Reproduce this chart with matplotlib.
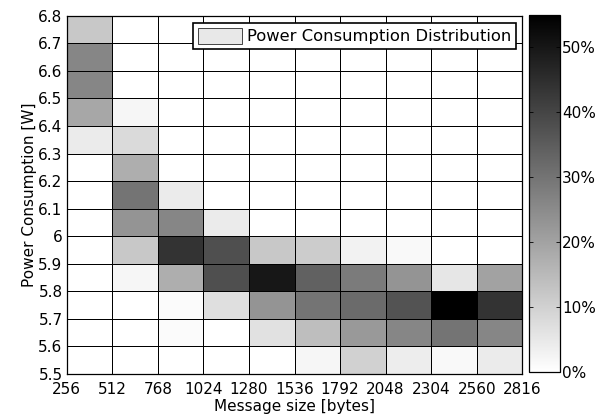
import numpy as np
import matplotlib.pyplot as plt
from matplotlib.patches import Patch
from matplotlib.ticker import FuncFormatter

plt.rcParams['font.family'] = ['DejaVu Sans']
plt.rcParams['font.size'] = 11

# bin edges
size_edges = [256, 512, 768, 1024, 1280, 1536, 1792, 2048, 2304, 2560, 2816]
power_edges = [5.5, 5.6, 5.7, 5.8, 5.9, 6.0, 6.1, 6.2, 6.3, 6.4, 6.5, 6.6, 6.7, 6.8]

# share of samples [%], one row per power bin (bottom -> top), one column per size bin
row_55 = [0, 0, 0, 0, 0, 2, 10, 4, 1.5, 4.5]
row_56 = [0, 0, 1, 0, 6.5, 14, 22, 26, 30, 26]
row_57 = [0, 0, 1, 7, 23, 30, 32, 37, 55, 44]
row_58 = [0, 2, 17.5, 38, 50, 34, 28.5, 23, 5.5, 20]
row_59 = [0, 12, 44, 38, 12, 11, 3, 1.5, 0, 0]
row_60 = [0, 23, 26, 4.5, 0, 0, 0, 0, 0, 0]
row_61 = [0, 30, 4.5, 0, 0, 0, 0, 0, 0, 0]
row_62 = [0, 17.5, 0, 0, 0, 0, 0, 0, 0, 0]
row_63 = [4.5, 8, 0, 0, 0, 0, 0, 0, 0, 0]
row_64 = [19, 2, 0, 0, 0, 0, 0, 0, 0, 0]
row_65 = [26, 0, 0, 0, 0, 0, 0, 0, 0, 0]
row_66 = [26, 0, 0, 0, 0, 0, 0, 0, 0, 0]
row_67 = [12, 0, 0, 0, 0, 0, 0, 0, 0, 0]

dist = np.array([row_55, row_56, row_57, row_58, row_59, row_60, row_61,
                 row_62, row_63, row_64, row_65, row_66, row_67])

fig = plt.figure(figsize=(6.03, 4.19), dpi=100)
ax = fig.add_axes([66.7/603, 45/419, 455.6/603, 358.3/419])
cax = fig.add_axes([529.3/603, 47/419, 30.7/603, 357/419])

mesh = ax.pcolormesh(size_edges, power_edges, dist, cmap='gray_r', vmin=0, vmax=55,
                     edgecolors='black', linewidth=0.7, snap=True)

ax.set_xlim(256, 2816)
ax.set_ylim(5.5, 6.8)
ax.set_xticks(size_edges)
ax.set_yticks(power_edges)
ax.yaxis.set_major_formatter(FuncFormatter(lambda v, p: '%g' % round(v, 1)))
ax.tick_params(axis='x', direction='in', length=0, pad=6)
ax.tick_params(axis='y', direction='in', length=0, pad=3)
for s in ax.spines.values():
    s.set_linewidth(0.9)
ax.set_xlabel('Message size [bytes]', labelpad=1.5)
ax.set_ylabel('Power Consumption [W]', labelpad=1)

leg = ax.legend(handles=[Patch(facecolor='#e8e8e8', edgecolor='black', linewidth=0.5,
                               label='Power Consumption Distribution')],
                loc='upper right', bbox_to_anchor=(0.986, 0.98), fancybox=False,
                framealpha=1, edgecolor='black', borderpad=0.3, handlelength=2.7,
                handleheight=1.15, handletextpad=0.3, borderaxespad=0, fontsize=11.8)
leg.get_frame().set_linewidth(1.2)

cb = fig.colorbar(mesh, cax=cax, ticks=[0, 10, 20, 30, 40, 50])
cb.ax.yaxis.set_major_formatter(FuncFormatter(lambda v, p: '%d%%' % v))
cb.ax.tick_params(direction='in', length=3, width=0.6, left=True, right=True,
                  labelsize=11, pad=1.5)
cb.outline.set_linewidth(0.9)

fig.savefig('out.png', dpi=100)
